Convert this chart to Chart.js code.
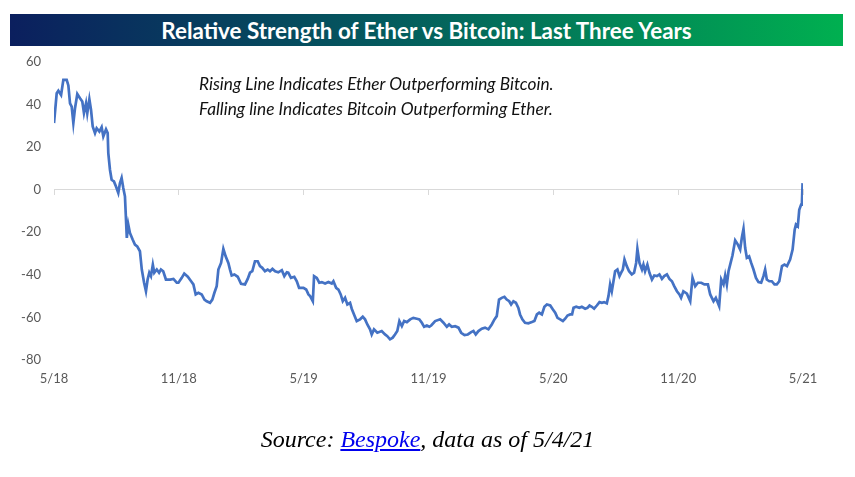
<!DOCTYPE html>
<html>
<head>
<meta charset="utf-8">
<script src="https://cdn.jsdelivr.net/npm/chart.js@4"></script>
<style>
  html, body { margin: 0; padding: 0; background: #ffffff; }
  #wrap { position: relative; width: 855px; height: 477px; overflow: hidden; }
  #chart { position: absolute; left: 0; top: 0; }
  #title {
    position: absolute; left: 10px; top: 14px; width: 833px; height: 32px;
    background: linear-gradient(to right, #0b1f5e 0%, #045a5e 45%, #00b050 100%);
    color: #ffffff; font-family: Lato, sans-serif; font-weight: bold; font-size: 22.4px;
    line-height: 33px; text-align: center;
  }
  #notes {
    position: absolute; left: 199px; top: 71px; font-family: Lato, sans-serif;
    font-style: italic; font-size: 17.25px; color: #111111; line-height: 25px; white-space: nowrap;
  }
  #source {
    position: absolute; left: 0; width: 855px; top: 426px; text-align: center;
    font-family: "Liberation Serif", serif; font-style: italic; font-size: 24px; color: #000000;
  }
  #source a { color: #0000ee; text-decoration: underline; }
</style>
</head>
<body>
<div id="wrap">
  <canvas id="chart" width="855" height="477"></canvas>
  <div id="title">Relative Strength of Ether vs Bitcoin: Last Three Years</div>
  <div id="notes">Rising Line Indicates Ether Outperforming Bitcoin.<br>Falling line Indicates Bitcoin Outperforming Ether.</div>
  <div id="source">Source: <a href="#">Bespoke</a>, data as of 5/4/21</div>
</div>
<script>
// x positions: months elapsed since May 2018
const months = [
  0.00,0.13,0.21,0.34,0.45,0.61,0.69,0.77,0.85,0.93,1.01,1.12,1.25,1.36,1.44,1.54,1.60,1.70,1.78,1.86,
  1.97,2.05,2.18,2.29,2.37,2.50,2.58,2.61,2.69,2.77,2.88,2.98,3.09,3.17,3.25,3.33,3.41,3.50,3.57,3.65,
  3.78,3.89,4.00,4.13,4.22,4.33,4.42,4.50,4.58,4.66,4.75,4.82,4.94,5.05,5.14,5.25,5.38,5.58,5.74,5.90,
  5.98,6.14,6.26,6.43,6.59,6.70,6.81,6.94,7.10,7.23,7.34,7.50,7.61,7.71,7.82,7.90,8.03,8.14,8.25,8.38,
  8.46,8.54,8.67,8.83,8.99,9.18,9.31,9.42,9.53,9.66,9.79,9.90,10.01,10.14,10.27,10.38,10.50,10.63,10.78,10.95,
  11.07,11.19,11.26,11.39,11.55,11.67,11.78,11.91,11.99,12.12,12.23,12.31,12.44,12.50,12.63,12.75,12.87,13.03,13.19,13.35,
  13.43,13.56,13.67,13.78,13.88,13.99,14.10,14.23,14.31,14.42,14.55,14.71,14.84,14.95,15.06,15.19,15.27,15.38,15.54,15.75,
  15.91,16.02,16.15,16.28,16.39,16.50,16.60,16.72,16.83,16.96,17.12,17.27,17.44,17.56,17.68,17.79,17.92,18.04,18.13,18.32,
  18.56,18.72,18.88,18.99,19.12,19.28,19.44,19.57,19.73,19.89,20.05,20.16,20.27,20.40,20.56,20.72,20.88,21.04,21.17,21.28,
  21.39,21.52,21.65,21.76,21.88,21.97,22.08,22.20,22.32,22.40,22.51,22.64,22.80,22.97,23.09,23.21,23.32,23.45,23.57,23.69,
  23.85,23.98,24.09,24.20,24.33,24.46,24.57,24.68,24.81,24.90,24.97,25.10,25.25,25.37,25.53,25.64,25.74,25.85,25.96,26.09,
  26.22,26.33,26.44,26.57,26.65,26.73,26.81,26.89,26.97,27.08,27.18,27.26,27.34,27.42,27.53,27.64,27.77,27.88,27.98,28.04,
  28.14,28.26,28.33,28.41,28.52,28.62,28.74,28.85,28.98,29.10,29.22,29.33,29.46,29.58,29.70,29.81,29.94,30.06,30.14,30.25,
  30.42,30.58,30.69,30.82,30.95,31.11,31.26,31.43,31.54,31.70,31.81,31.97,32.07,32.18,32.26,32.34,32.42,32.50,32.61,32.74,
  32.87,32.98,33.06,33.14,33.22,33.30,33.41,33.51,33.62,33.74,33.86,33.99,34.10,34.18,34.26,34.38,34.50,34.63,34.74,34.86,
  34.99,35.11,35.23,35.38,35.50,35.60,35.66,35.75,35.82,35.91,35.95,35.98
];
// relative strength values
const strength = [
  31.3,45.3,46.5,44.5,51.6,51.6,49.0,40.6,39.0,31.3,38.3,45.0,43.0,41.4,36.0,40.6,36.0,42.5,37.5,29.7,
  26.6,28.9,27.3,29.4,25.0,28.4,26.6,17.2,9.4,4.7,3.9,1.5,-1.5,3.1,5.5,0.8,-3.1,-22.6,-16.4,-20.3,
  -23.4,-25.8,-26.6,-28.9,-37.5,-43.7,-47.7,-42.2,-39.0,-40.6,-35.2,-39.0,-37.5,-39.0,-37.5,-38.3,-42.2,-42.2,-41.9,-43.7,
  -43.7,-41.4,-39.4,-40.9,-43.0,-44.5,-49.2,-48.4,-49.2,-51.6,-52.4,-53.1,-51.6,-48.4,-45.3,-37.5,-34.4,-27.8,-31.3,-34.4,
  -37.5,-40.3,-39.8,-40.9,-44.2,-44.5,-41.9,-39.0,-38.3,-33.6,-33.6,-35.9,-36.7,-38.3,-37.5,-38.3,-37.2,-38.3,-38.8,-37.8,
  -40.6,-38.8,-39.0,-41.4,-40.9,-43.0,-46.1,-46.1,-46.1,-46.9,-49.2,-50.0,-52.4,-40.6,-41.4,-43.7,-43.4,-44.1,-43.4,-44.1,
  -43.0,-46.1,-46.9,-49.2,-52.4,-50.8,-53.9,-53.1,-55.9,-58.6,-61.7,-60.9,-59.7,-60.9,-63.3,-65.6,-68.0,-65.6,-67.2,-66.4,
  -68.0,-68.8,-70.3,-69.5,-68.0,-66.4,-61.7,-64.1,-61.7,-62.2,-60.9,-60.2,-60.6,-60.9,-62.5,-64.4,-63.8,-64.4,-63.8,-61.7,
  -60.9,-62.5,-64.4,-63.3,-64.4,-64.1,-64.8,-67.2,-68.3,-68.0,-66.9,-66.4,-68.0,-66.4,-65.3,-64.8,-65.6,-63.3,-60.9,-59.4,
  -51.6,-50.8,-50.3,-51.6,-52.4,-53.9,-52.4,-53.1,-55.5,-58.6,-60.9,-62.5,-62.8,-62.2,-61.7,-58.6,-57.8,-58.6,-55.0,-53.9,
  -54.4,-56.3,-57.8,-60.2,-60.9,-61.7,-60.6,-59.1,-58.6,-58.6,-55.5,-55.0,-55.5,-55.0,-55.9,-55.5,-54.4,-55.0,-55.9,-54.4,
  -52.8,-53.1,-52.8,-53.4,-50.0,-44.5,-47.7,-43.0,-38.3,-37.5,-40.6,-39.0,-37.5,-32.8,-35.9,-38.3,-39.8,-39.0,-34.4,-27.8,
  -34.4,-37.5,-35.2,-38.3,-35.2,-39.0,-42.2,-40.3,-40.6,-39.8,-41.9,-40.6,-39.8,-41.9,-43.0,-45.3,-47.7,-49.2,-50.8,-47.7,
  -48.8,-52.4,-41.4,-45.3,-43.7,-43.7,-44.5,-44.5,-49.2,-52.4,-50.8,-54.7,-42.2,-44.5,-40.3,-44.5,-38.3,-35.2,-30.9,-23.8,
  -25.8,-28.1,-22.6,-18.4,-27.3,-32.0,-31.3,-34.4,-37.5,-41.4,-43.4,-43.7,-40.6,-37.5,-42.2,-43.0,-43.0,-44.5,-44.5,-43.0,
  -35.9,-35.2,-35.9,-32.8,-28.1,-18.8,-16.4,-17.2,-9.4,-7.0,-5.5,3.1
];
const xTickMonths = [0, 6, 12, 18, 24, 30, 36];
const xTickLabels = ['5/18', '11/18', '5/19', '11/19', '5/20', '11/20', '5/21'];
const yMin = -80, yMax = 60, yStep = 20;

const points = months.map((m, i) => ({ x: m, y: strength[i] }));
const setMonthTicks = s => { s.ticks = xTickMonths.map(v => ({ value: v })); };
const tickFont = { family: 'Lato, sans-serif', size: 13 };

new Chart(document.getElementById('chart'), {
  type: 'line',
  data: {
    datasets: [{
      data: points,
      borderColor: '#4472C4',
      borderWidth: 2.7,
      pointRadius: 0,
      tension: 0,
      fill: false
    }]
  },
  options: {
    responsive: false,
    animation: false,
    layout: { padding: { left: 0, top: 62, right: 52, bottom: 87 } },
    plugins: { legend: { display: false }, tooltip: { enabled: false } },
    scales: {
      x: {
        type: 'linear', min: 0, max: 36, position: 'bottom',
        afterBuildTicks: setMonthTicks,
        afterFit: s => { s.height = 30; },
        grid: { display: false, drawTicks: false },
        border: { display: false },
        ticks: {
          autoSkip: false, maxRotation: 0, padding: 11,
          color: '#595959', font: tickFont,
          callback: (v, i) => xTickLabels[i]
        }
      },
      x2: {
        type: 'linear', axis: 'x', min: 0, max: 36, position: { y: 0 },
        afterBuildTicks: setMonthTicks,
        ticks: { display: false },
        grid: { drawOnChartArea: false, drawTicks: true, tickLength: 5, color: '#d9d9d9', lineWidth: 1 },
        border: { display: true, color: '#d9d9d9', width: 1 }
      },
      y: {
        min: yMin, max: yMax,
        afterFit: s => { s.width = 54; },
        grid: { display: false, drawTicks: false },
        border: { display: false },
        ticks: { stepSize: yStep, padding: 13, color: '#595959', font: tickFont }
      }
    }
  }
});
</script>
</body>
</html>
